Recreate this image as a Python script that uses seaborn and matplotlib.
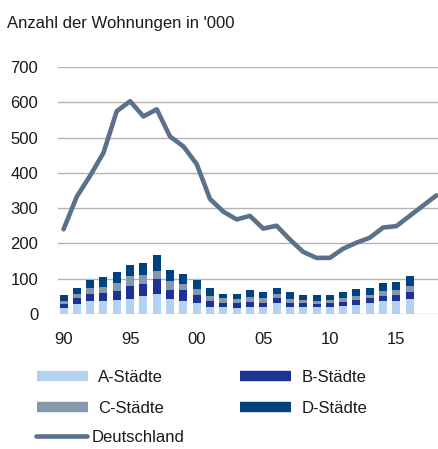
import pandas as pd
import seaborn as sns
import matplotlib.pyplot as plt
from matplotlib.lines import Line2D

# Daten (in Tausend Wohnungen)
bar_years = list(range(1990, 2017))
a_staedte = [16, 29, 37, 37, 40, 43, 50, 58, 43, 37, 32, 21, 21, 18, 21, 19, 30, 21, 21, 21, 21, 23, 25, 30, 36, 36, 43]
b_staedte = [13, 16, 21, 22, 24, 35, 36, 40, 26, 30, 21, 16, 11, 12, 13, 13, 14, 10, 10, 8, 10, 10, 14, 14, 14, 18, 18]
c_staedte = [8, 12, 16, 18, 24, 29, 25, 25, 25, 17, 17, 15, 12, 13, 13, 13, 12, 12, 9, 9, 9, 11, 11, 11, 16, 13, 19]
d_staedte = [17, 18, 23, 28, 31, 32, 34, 43, 30, 29, 26, 21, 14, 14, 22, 17, 19, 19, 14, 15, 14, 18, 21, 20, 22, 23, 27]

line_years = list(range(1990, 2019))
deutschland = [240, 333, 392, 457, 575, 603, 560, 580, 503, 475, 425, 326, 290, 268, 278, 242,
               250, 211, 176, 159, 159, 185, 202, 216, 245, 249, 278, 307, 336]

y_ticks = [0, 100, 200, 300, 400, 500, 600, 700]
x_ticks = [1990, 1995, 2000, 2005, 2010, 2015]
x_labels = ['90', '95', '00', '05', '10', '15']

names = ['A-Städte', 'B-Städte', 'C-Städte', 'D-Städte']
colors = {'A-Städte': '#b4d1f0', 'B-Städte': '#1d3393', 'C-Städte': '#8497ad', 'D-Städte': '#00417f'}
line_color = '#5b7189'

# Long-Format für histplot
df = pd.DataFrame({
    'year': bar_years * 4,
    'type': sum([[n] * len(bar_years) for n in names], []),
    'value': a_staedte + b_staedte + c_staedte + d_staedte,
})

sns.set_style('white')
plt.rcParams['font.family'] = ['Liberation Sans', 'DejaVu Sans']

fig = plt.figure(figsize=(4.39, 4.49), dpi=100)
ax = fig.add_axes([0.1314, 0.3007, 0.8686, 0.5501])

sns.histplot(data=df, x='year', weights='value', hue='type', hue_order=names[::-1],
             multiple='stack', discrete=True, shrink=0.6, palette=colors, alpha=1,
             linewidth=0, legend=False, ax=ax, zorder=3)
sns.lineplot(x=line_years, y=deutschland, color=line_color, linewidth=3.3, ax=ax, zorder=4,
             solid_joinstyle='round', solid_capstyle='round')

ax.set_xlim(1989.56, 2018.2)
ax.set_ylim(0, 700)
ax.set_yticks(y_ticks)
ax.set_xticks(x_ticks)
ax.set_xticklabels(x_labels)
ax.set_xlabel('')
ax.set_ylabel('')
ax.grid(axis='y', color='#b3b3b3', linewidth=1)
ax.set_axisbelow(True)
for s in ax.spines.values():
    s.set_visible(False)
ax.tick_params(axis='both', length=0, labelsize=12, colors='#1a1a1a')
ax.tick_params(axis='y', pad=14)
ax.tick_params(axis='x', pad=13)

fig.text(0.016, 0.947, "Anzahl der Wohnungen in '000", fontsize=12, color='#1a1a1a', va='center')

# Legende: Städte-Typen in zwei Spalten, Deutschland darunter
bar_handles = [
    Line2D([], [], color=colors['A-Städte'], linewidth=7.5, solid_capstyle='butt'),
    Line2D([], [], color=colors['C-Städte'], linewidth=7.5, solid_capstyle='butt'),
    Line2D([], [], color=colors['B-Städte'], linewidth=7.5, solid_capstyle='butt'),
    Line2D([], [], color=colors['D-Städte'], linewidth=7.5, solid_capstyle='butt'),
]
leg1 = fig.legend(bar_handles, ['A-Städte', 'C-Städte', 'B-Städte', 'D-Städte'], ncol=2,
                  loc='upper left', bbox_to_anchor=(0.049, 0.209), frameon=False, fontsize=12,
                  handlelength=3.1, handletextpad=0.6, columnspacing=4.55, labelspacing=0.95,
                  labelcolor='#1a1a1a')
fig.legend([Line2D([], [], color=line_color, linewidth=3.3, solid_capstyle='round')], ['Deutschland'],
           loc='upper left', bbox_to_anchor=(0.047, 0.075), frameon=False, fontsize=12,
           handlelength=3.1, handletextpad=0.25, labelcolor='#1a1a1a')

plt.savefig('out.png', dpi=100)
